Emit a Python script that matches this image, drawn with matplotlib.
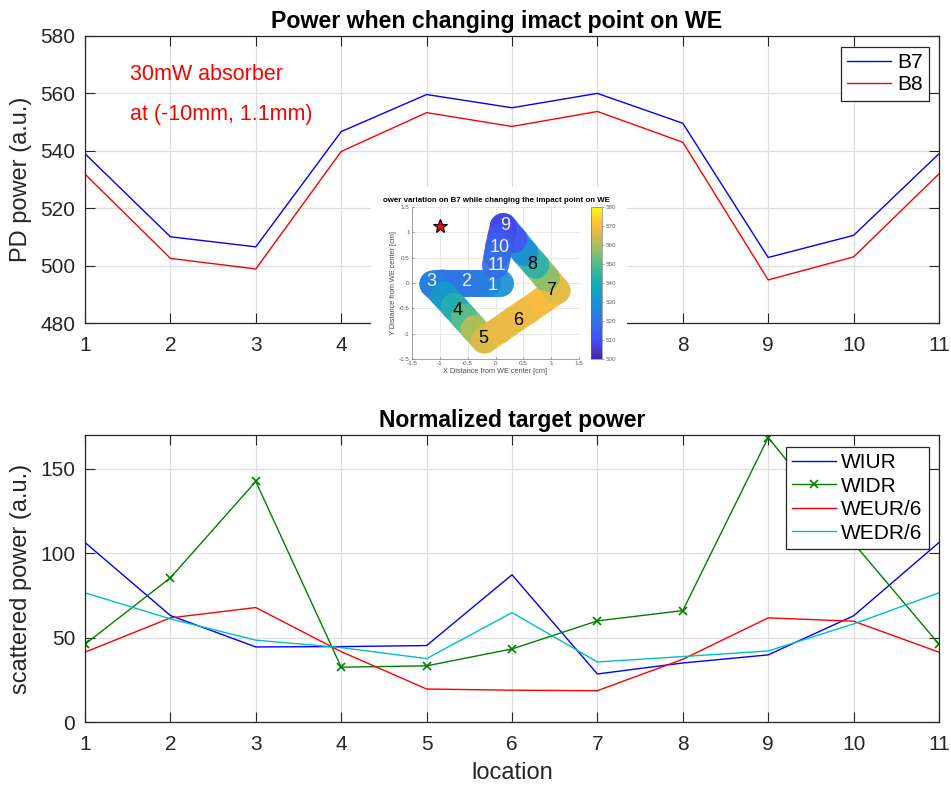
import numpy as np
import matplotlib
matplotlib.use("Agg")
import matplotlib.pyplot as plt
from matplotlib.colors import LinearSegmentedColormap, Normalize
from matplotlib.collections import LineCollection

plt.rcParams['font.family'] = ['Liberation Sans', 'DejaVu Sans']

# ---------------- data ----------------
locations = np.arange(1, 12)
b7 = [539, 510.1, 506.6, 546.7, 559.6, 555.0, 560.0, 549.6, 502.9, 510.6, 539]
b8 = [531.9, 502.6, 498.9, 539.8, 553.3, 548.5, 553.7, 543.0, 495.1, 503.1, 532]

wiur = [106.4, 63.2, 44.6, 44.8, 45.4, 87.3, 28.6, 35.1, 39.9, 63.0, 106.4]
widr = [46.2, 85.5, 142.5, 32.6, 33.4, 43.4, 60.0, 66.1, 168.5, 106.0, 46.2]
weur6 = [41.5, 61.8, 67.9, 41.8, 19.7, 19.0, 18.7, 37.3, 61.8, 59.8, 41.5]
wedr6 = [76.6, 61.2, 48.6, 44.2, 37.7, 64.9, 35.7, 38.9, 42.2, 58.2, 76.6]

top_labels = ['B7', 'B8']
bottom_labels = ['WIUR', 'WIDR', 'WEUR/6', 'WEDR/6']

path_x = [0.08, -0.15, -0.35, -0.55, -0.75, -0.95, -1.12, -0.92, -0.74, -0.56,
          -0.38, -0.20, 0.06, 0.32, 0.58, 0.84, 1.10, 0.91, 0.72, 0.52, 0.33,
          0.14, 0.10, 0.06, 0.03, 0.00]
path_y = [0.00, 0.00, 0.00, 0.00, 0.00, 0.00, -0.02, -0.24, -0.46, -0.68,
          -0.90, -1.12, -0.93, -0.73, -0.54, -0.34, -0.15, 0.10, 0.35, 0.60,
          0.86, 1.11, 0.92, 0.72, 0.53, 0.35]
path_p = [530, 527, 524, 522, 521, 520, 520, 528, 538, 546, 556, 565, 567, 568,
          568, 569, 570, 563, 550, 537, 520, 505, 510, 514, 517, 520]

pt_names = ['1', '2', '3', '4', '5', '6', '7', '8', '9', '10', '11']
pt_x = [-0.05, -0.52, -1.14, -0.67, -0.22, 0.41, 1.00, 0.66, 0.17, 0.07, 0.02]
pt_y = [-0.05, 0.03, 0.03, -0.54, -1.10, -0.73, -0.14, 0.37, 1.14, 0.70, 0.35]
pt_white = [True, True, True, False, False, False, False, False, True, True, True]
star_xy = (-1.0, 1.13)

# approximate parula colormap
parula = LinearSegmentedColormap.from_list('parula', [
    (0.00, (0.2422, 0.1504, 0.6603)),
    (0.11, (0.2805, 0.2811, 0.9576)),
    (0.24, (0.1986, 0.4467, 0.9000)),
    (0.37, (0.0891, 0.5736, 0.8300)),
    (0.49, (0.0700, 0.6700, 0.7300)),
    (0.62, (0.3000, 0.7400, 0.5500)),
    (0.75, (0.6800, 0.7450, 0.3500)),
    (0.87, (0.9739, 0.7314, 0.2420)),
    (1.00, (0.9763, 0.9831, 0.0538)),
])

# ---------------- figure ----------------
W, H = 951, 787
fig = plt.figure(figsize=(W / 100, H / 100), dpi=100)


def fig_rect(x0, y0, x1, y1):
    return [x0 / W, 1 - y1 / H, (x1 - x0) / W, (y1 - y0) / H]


def style_axes(ax):
    ax.grid(True, color='#dedede', linewidth=0.9)
    ax.set_axisbelow(True)
    for s in ax.spines.values():
        s.set_color('0.15')
        s.set_linewidth(0.9)
    ax.tick_params(direction='in', length=7, width=0.8, top=True, right=True,
                   labelsize=15, colors='0.15', pad=7)
    ax.tick_params(axis='x', pad=9)


ax1 = fig.add_axes(fig_rect(85, 35.9, 939, 323.3))
ax1.plot(locations, b7, color='blue', lw=1.0, label=top_labels[0])
ax1.plot(locations, b8, color='red', lw=1.0, label=top_labels[1])
ax1.set_xlim(1, 11)
ax1.set_ylim(480, 580)
ax1.set_xticks(locations)
ax1.set_yticks(np.arange(480, 581, 20))
style_axes(ax1)
ax1.set_ylabel('PD power (a.u.)', fontsize=17, color='0.15', labelpad=6)
ax1.set_title('Power when changing imact point on WE', fontsize=16.7,
              fontweight='bold', x=0.482, pad=6)
ax1.text(0.0527, 0.866, '30mW absorber', color='red', fontsize=15.5,
         transform=ax1.transAxes, va='center')
ax1.text(0.0527, 0.728, 'at (-10mm, 1.1mm)', color='red', fontsize=15.5,
         transform=ax1.transAxes, va='center')
leg1 = ax1.legend(loc='upper right', bbox_to_anchor=(0.9883, 0.9614),
                  borderaxespad=0, fontsize=15, fancybox=False, framealpha=1,
                  edgecolor='0.15', handlelength=2.1, handletextpad=0.3,
                  labelspacing=0.15, borderpad=0.3)
leg1.get_frame().set_linewidth(0.9)

ax2 = fig.add_axes(fig_rect(85, 435, 939, 722.3))
ax2.plot(locations, wiur, color='blue', lw=1.0, label=bottom_labels[0])
ax2.plot(locations, widr, color=(0, 0.5, 0), lw=1.0, marker='x', ms=6,
         mew=1.2, label=bottom_labels[1])
ax2.plot(locations, weur6, color='red', lw=1.0, label=bottom_labels[2])
ax2.plot(locations, wedr6, color=(0, 0.75, 0.75), lw=1.0, label=bottom_labels[3])
ax2.set_xlim(1, 11)
ax2.set_ylim(0, 170)
ax2.set_xticks(locations)
ax2.set_yticks([0, 50, 100, 150])
style_axes(ax2)
ax2.set_ylabel('scattered power (a.u.)', fontsize=17, color='0.15', labelpad=6)
ax2.set_xlabel('location', fontsize=17, color='0.15', labelpad=6)
ax2.set_title('Normalized target power', fontsize=16.5, fontweight='bold', pad=6)
leg2 = ax2.legend(loc='upper right', bbox_to_anchor=(0.9883, 0.9593),
                  borderaxespad=0, fontsize=15, fancybox=False, framealpha=1,
                  edgecolor='0.15', handlelength=2.1, handletextpad=0.25,
                  labelspacing=0.22, borderpad=0.3)
leg2.get_frame().set_linewidth(0.9)

# ---------------- inset picture ----------------
bg = fig.add_axes(fig_rect(371, 187, 627, 386))
bg.set_facecolor('white')
bg.set_xticks([])
bg.set_yticks([])
for s in bg.spines.values():
    s.set_visible(False)

axi = fig.add_axes(fig_rect(411.7, 206.7, 579.3, 359.3))
norm = Normalize(500, 580)
pts = np.column_stack([path_x, path_y])
segs = np.stack([pts[:-1], pts[1:]], axis=1)
seg_vals = (np.array(path_p[:-1]) + np.array(path_p[1:])) / 2
lc = LineCollection(segs, cmap=parula, norm=norm, linewidths=19.5,
                    capstyle='round', joinstyle='round', alpha=0.92)
lc.set_array(seg_vals)
axi.add_collection(lc)
for name, x, y, wht in zip(pt_names, pt_x, pt_y, pt_white):
    axi.text(x, y, name, fontsize=13, ha='center', va='center',
             color='#f4f1dc' if wht else 'black')
axi.plot([star_xy[0]], [star_xy[1]], marker='*', ms=10, color='red',
         mec='black', mew=0.8)
axi.set_xlim(-1.5, 1.5)
axi.set_ylim(-1.5, 1.5)
ticks = [-1.5, -1, -0.5, 0, 0.5, 1, 1.5]
axi.set_xticks(ticks)
axi.set_yticks(ticks)
axi.set_xticklabels(['-1.5', '-1', '-0.5', '0', '0.5', '1', '1.5'])
axi.set_yticklabels(['-1.5', '-1', '-0.5', '0', '0.5', '1', '1.5'])
axi.grid(True, color='#e4e4e4', linewidth=0.6)
axi.set_axisbelow(True)
axi.tick_params(labelsize=4.5, colors='0.35', length=1.5, width=0.4, pad=1.5,
                direction='in')
for k in ['top', 'right']:
    axi.spines[k].set_visible(False)
for k in ['left', 'bottom']:
    axi.spines[k].set_color('0.5')
    axi.spines[k].set_linewidth(0.5)
axi.set_xlabel('X Distance from WE center [cm]', fontsize=5.3, color='0.3',
               labelpad=1)
axi.set_ylabel('Y Distance from WE center [cm]', fontsize=5.3, color='0.3',
               labelpad=1)
fig.text(383 / W, 1 - 201 / H,
         'ower variation on B7 while changing the impact point on WE',
         fontsize=5.7, fontweight='bold', ha='left', va='center')

cax = fig.add_axes(fig_rect(590.7, 206.7, 601.7, 359.3))
sm = plt.cm.ScalarMappable(norm=norm, cmap=parula)
cb = fig.colorbar(sm, cax=cax, ticks=np.arange(500, 581, 10))
cb.outline.set_linewidth(0.4)
cb.outline.set_edgecolor('0.4')
cax.tick_params(labelsize=4.5, colors='0.4', length=1.5, width=0.4, pad=1.5)

fig.savefig('out.png', dpi=100)
